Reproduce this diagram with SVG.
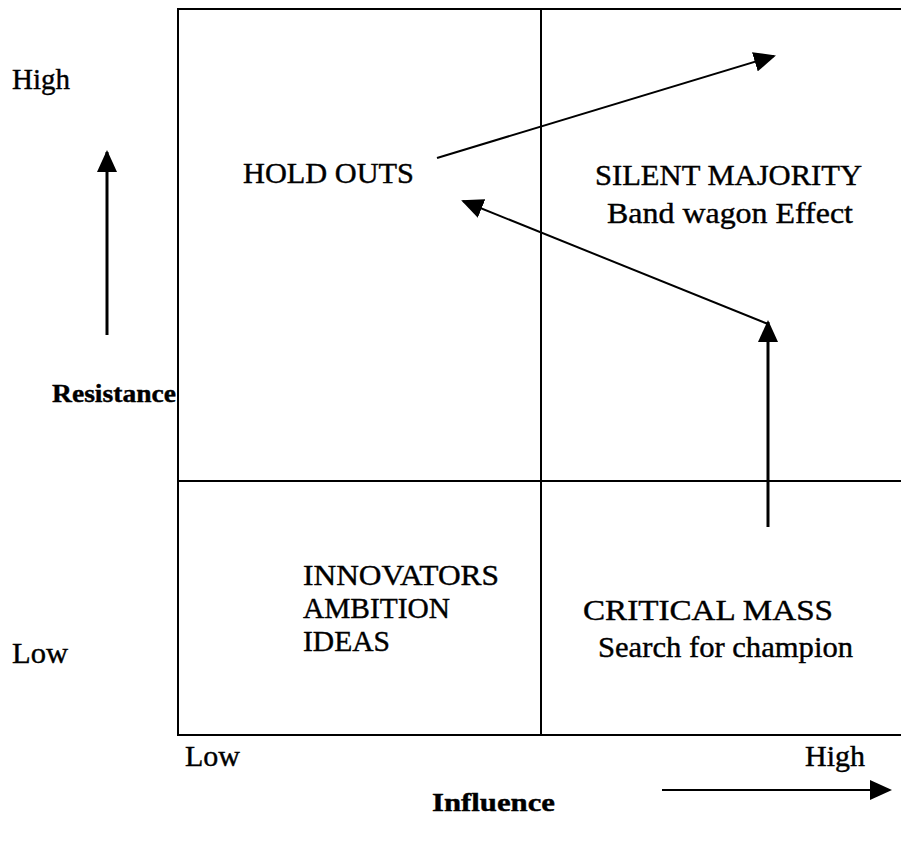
<svg xmlns="http://www.w3.org/2000/svg" width="901" height="842" viewBox="0 0 901 842">
  <style>
    .grid { stroke: #000; stroke-width: 2; fill: none; }
    .lbl { font-family: "Liberation Serif", "Times New Roman", serif; font-size: 30px; fill: #000; stroke: #000; stroke-width: 0.4; }
    .axis { font-family: "Liberation Serif", "Times New Roman", serif; font-size: 26px; font-weight: bold; fill: #000; stroke: #000; stroke-width: 0.4; }
    .arrow { stroke: #000; fill: none; }
  </style>
  <defs>
    <marker id="head" viewBox="0 0 22 20" refX="20" refY="10" markerWidth="22" markerHeight="20" markerUnits="userSpaceOnUse" orient="auto">
      <path d="M0,0 L22,10 L0,20 Z" fill="#000"/>
    </marker>
  </defs>
  <rect width="901" height="842" fill="#fff"/>

  <!-- quadrant frame -->
  <g id="frame">
    <path class="grid" d="M901,9 L178,9 L178,735 L901,735"/>
    <line class="grid" x1="541" y1="9" x2="541" y2="735"/>
    <line class="grid" x1="178" y1="481" x2="901" y2="481"/>
  </g>

  <!-- axis labels -->
  <g id="y-axis">
    <text class="lbl" x="12" y="89" textLength="58" lengthAdjust="spacingAndGlyphs">High</text>
    <text class="lbl" x="12" y="663" textLength="56" lengthAdjust="spacingAndGlyphs">Low</text>
    <text class="axis" x="52" y="402" textLength="124" lengthAdjust="spacingAndGlyphs">Resistance</text>
  </g>
  <g id="x-axis">
    <text class="lbl" x="185" y="766" textLength="55" lengthAdjust="spacingAndGlyphs">Low</text>
    <text class="lbl" x="805" y="766" textLength="60" lengthAdjust="spacingAndGlyphs">High</text>
    <text class="axis" x="432" y="811" textLength="123" lengthAdjust="spacingAndGlyphs">Influence</text>
  </g>

  <!-- quadrants -->
  <g id="hold-outs">
    <text class="lbl" x="243" y="183" textLength="171" lengthAdjust="spacingAndGlyphs">HOLD OUTS</text>
  </g>
  <g id="silent-majority">
    <text class="lbl" x="595" y="185" textLength="267" lengthAdjust="spacingAndGlyphs">SILENT MAJORITY</text>
    <text class="lbl" x="607" y="223" textLength="246" lengthAdjust="spacingAndGlyphs">Band wagon Effect</text>
  </g>
  <g id="innovators">
    <text class="lbl" x="303" y="585" textLength="196" lengthAdjust="spacingAndGlyphs">INNOVATORS</text>
    <text class="lbl" x="303" y="618" textLength="147" lengthAdjust="spacingAndGlyphs">AMBITION</text>
    <text class="lbl" x="303" y="651" textLength="87" lengthAdjust="spacingAndGlyphs">IDEAS</text>
  </g>
  <g id="critical-mass">
    <text class="lbl" x="583" y="620" textLength="250" lengthAdjust="spacingAndGlyphs">CRITICAL MASS</text>
    <text class="lbl" x="598" y="657" textLength="255" lengthAdjust="spacingAndGlyphs">Search for champion</text>
  </g>

  <!-- connectors -->
  <g id="connectors">
    <line class="arrow" stroke-width="3" x1="107" y1="335" x2="107" y2="152" marker-end="url(#head)"/>
    <line class="arrow" stroke-width="2" x1="662" y1="790" x2="890" y2="790" marker-end="url(#head)"/>
    <line class="arrow" stroke-width="2" x1="437" y1="158" x2="774" y2="56" marker-end="url(#head)"/>
    <line class="arrow" stroke-width="3" x1="768" y1="527" x2="768" y2="322" marker-end="url(#head)"/>
    <line class="arrow" stroke-width="2" x1="768" y1="324" x2="463" y2="201" marker-end="url(#head)"/>
  </g>
</svg>
